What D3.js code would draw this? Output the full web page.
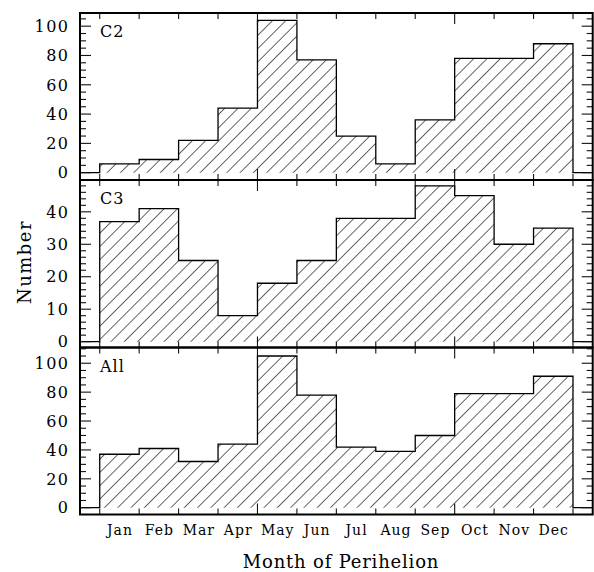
<!DOCTYPE html>
<html>
<head>
<meta charset="utf-8">
<script src="https://cdn.jsdelivr.net/npm/d3@7"></script>
<style>
  html, body { margin: 0; padding: 0; background: #fff; }
  svg { display: block; }
  text { font-family: "DejaVu Serif", serif; fill: #000; }
</style>
</head>
<body>
<svg id="chart" width="594" height="572"></svg>
<script>
// ---- data ----
const months = ["Jan","Feb","Mar","Apr","May","Jun","Jul","Aug","Sep","Oct","Nov","Dec"];
const c2Counts  = [6, 9, 22, 44, 104, 77, 25, 6, 36, 78, 78, 88];
const c3Counts  = [37, 41, 25, 8, 18, 25, 38, 38, 48, 45, 30, 35];
const allCounts = [37, 41, 32, 44, 105, 78, 42, 39, 50, 79, 79, 91];
const panelLabels = ["C2", "C3", "All"];
const c2Ticks  = [0, 20, 40, 60, 80, 100];
const c3Ticks  = [0, 10, 20, 30, 40];
const allTicks = [0, 20, 40, 60, 80, 100];
const xLabel = "Month of Perihelion";
const yLabel = "Number";

// ---- layout ----
const svg = d3.select("#chart");
const left = 80, right = 592.7;
const panels = [
  { label: panelLabels[0], values: c2Counts,  ticks: c2Ticks,  minorStep: 5, minorMax: 105, domain: [-5, 109],    top: 13,    bottom: 180 },
  { label: panelLabels[1], values: c3Counts,  ticks: c3Ticks,  minorStep: 2, minorMax: 48,  domain: [-1.8, 49.8], top: 180,   bottom: 347.5 },
  { label: panelLabels[2], values: allCounts, ticks: allTicks, minorStep: 5, minorMax: 110, domain: [-4.7, 110.9], top: 347.5, bottom: 514.5 }
];

const x = d3.scaleLinear().domain([0.5, 13.5]).range([left, right]);

// hatch pattern
const defs = svg.append("defs");
const pat = defs.append("pattern")
  .attr("id", "hatch")
  .attr("patternUnits", "userSpaceOnUse")
  .attr("width", 9.4).attr("height", 10)
  .attr("patternTransform", "rotate(45)");
pat.append("line")
  .attr("x1", 0).attr("y1", -1).attr("x2", 0).attr("y2", 11)
  .attr("stroke", "#000").attr("stroke-width", 1.2);

const majorX = [5, 10];
const xTickVals = d3.range(1, 14);

panels.forEach((p, pi) => {
  const y = d3.scaleLinear().domain(p.domain).range([p.bottom, p.top]);
  const g = svg.append("g");

  // hatched area
  const pts = [];
  p.values.forEach((v, i) => { pts.push([i + 1, v]); pts.push([i + 2, v]); });
  const area = d3.area().x(d => x(d[0])).y0(y(0)).y1(d => y(d[1]));
  g.append("path").datum(pts).attr("d", area).attr("fill", "url(#hatch)");

  // step outline
  const linePts = [[0.5, 0], [1, 0]].concat(pts).concat([[13, 0], [13.5, 0]]);
  const line = d3.line().x(d => x(d[0])).y(d => y(d[1]));
  g.append("path").datum(linePts).attr("d", line)
    .attr("fill", "none").attr("stroke", "#000").attr("stroke-width", 1.3);

  // y ticks (left & right)
  const minors = d3.range(0, p.minorMax + 0.001, p.minorStep).filter(v => !p.ticks.includes(v));
  const tickG = g.append("g").attr("stroke", "#111").attr("stroke-width", 1.1);
  p.ticks.forEach(v => {
    tickG.append("line").attr("x1", left).attr("x2", left + 11).attr("y1", y(v)).attr("y2", y(v));
    tickG.append("line").attr("x1", right).attr("x2", right - 11).attr("y1", y(v)).attr("y2", y(v));
  });
  minors.forEach(v => {
    tickG.append("line").attr("x1", left).attr("x2", left + 6).attr("y1", y(v)).attr("y2", y(v));
    tickG.append("line").attr("x1", right).attr("x2", right - 6).attr("y1", y(v)).attr("y2", y(v));
  });
  // x ticks (top & bottom of each panel)
  xTickVals.forEach(v => {
    const len = majorX.includes(v) ? 11 : 6;
    tickG.append("line").attr("x1", x(v)).attr("x2", x(v)).attr("y1", p.top).attr("y2", p.top + len);
    tickG.append("line").attr("x1", x(v)).attr("x2", x(v)).attr("y1", p.bottom).attr("y2", p.bottom - len);
  });

  // y tick labels
  g.selectAll("text.yt").data(p.ticks).enter().append("text")
    .attr("class", "yt")
    .attr("x", 69.5).attr("y", d => y(d)).attr("dy", "0.36em")
    .attr("text-anchor", "end")
    .style("font-size", "16px")
    .style("letter-spacing", "1.5px")
    .text(d => d);

  // panel label
  g.append("text").attr("x", 100).attr("y", p.top + 24)
    .style("font-size", "16px")
    .style("letter-spacing", "1px")
    .text(p.label);

  // frame
  g.append("rect").attr("x", left).attr("y", p.top)
    .attr("width", right - left).attr("height", p.bottom - p.top)
    .attr("fill", "none").attr("stroke", "#000").attr("stroke-width", 2);
});

// month labels
svg.selectAll("text.mon").data(months).enter().append("text")
  .attr("class", "mon")
  .attr("x", (d, i) => x(i + 1.5) + 0.5).attr("y", 535)
  .attr("text-anchor", "middle")
  .style("font-size", "14px")
  .style("letter-spacing", "1px")
  .text(d => d);

// axis titles
svg.append("text").attr("x", 341).attr("y", 568)
  .attr("text-anchor", "middle").style("font-size", "18px")
  .style("letter-spacing", "0.8px")
  .text(xLabel);
svg.append("text")
  .attr("transform", "translate(31,262) rotate(-90)")
  .attr("text-anchor", "middle").style("font-size", "18px")
  .style("letter-spacing", "1.5px")
  .text(yLabel);
</script>
</body>
</html>
